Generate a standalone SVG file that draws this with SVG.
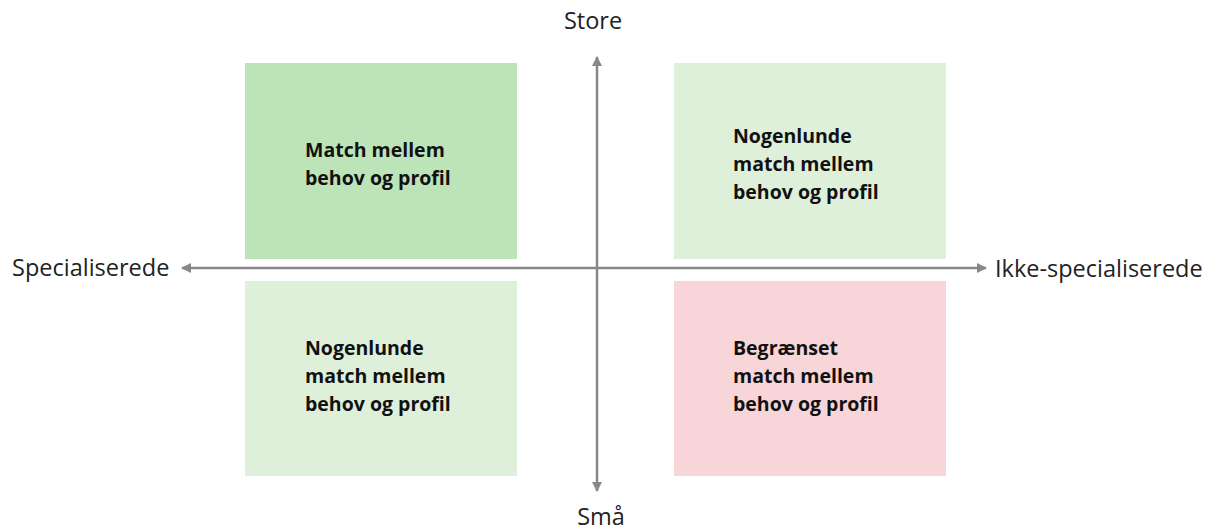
<svg xmlns="http://www.w3.org/2000/svg" width="1206" height="531" viewBox="0 0 1206 531">
<style>
.box-text{font-family:"Open Sans","Noto Sans","DejaVu Sans",sans-serif;font-weight:bold;font-size:19.5px;fill:#111}
.axis-label{font-family:"Open Sans","Noto Sans","DejaVu Sans",sans-serif;font-size:23.5px;fill:#222}
.axis{stroke:#888;stroke-width:2.5;fill:none}
</style>
<defs>
<marker id="arr" viewBox="0 0 10 10" refX="9" refY="5" markerWidth="4" markerHeight="4" orient="auto" markerUnits="strokeWidth">
<path d="M0,0 L10,5 L0,10 z" fill="#888"/>
</marker>
</defs>
<rect width="1206" height="531" fill="#fff"/>
<g id="q-top-left">
<rect x="245" y="63" width="272" height="196" fill="#BDE3B8"/>
<text class="box-text" x="305" y="157">Match mellem</text>
<text class="box-text" x="305" y="185">behov og profil</text>
</g>
<g id="q-top-right">
<rect x="674" y="63" width="272" height="196" fill="#DEF0DA"/>
<text class="box-text" x="733" y="143">Nogenlunde</text>
<text class="box-text" x="733" y="171">match mellem</text>
<text class="box-text" x="733" y="199">behov og profil</text>
</g>
<g id="q-bottom-left">
<rect x="245" y="281" width="272" height="195" fill="#DEF0DA"/>
<text class="box-text" x="305" y="355">Nogenlunde</text>
<text class="box-text" x="305" y="383">match mellem</text>
<text class="box-text" x="305" y="411">behov og profil</text>
</g>
<g id="q-bottom-right">
<rect x="674" y="281" width="272" height="195" fill="#F8D5D8"/>
<text class="box-text" x="733" y="355">Begrænset</text>
<text class="box-text" x="733" y="383">match mellem</text>
<text class="box-text" x="733" y="411">behov og profil</text>
</g>
<g id="connectors">
<line class="axis" x1="597" y1="268" x2="182" y2="268" marker-end="url(#arr)"/>
<line class="axis" x1="597" y1="268" x2="986" y2="268" marker-end="url(#arr)"/>
<line class="axis" x1="597" y1="268" x2="597" y2="57" marker-end="url(#arr)"/>
<line class="axis" x1="597" y1="268" x2="597" y2="491" marker-end="url(#arr)"/>
</g>
<g id="labels">
<text class="axis-label" x="593" y="29" text-anchor="middle">Store</text>
<text class="axis-label" x="601" y="525" text-anchor="middle">Små</text>
<text class="axis-label" x="12" y="276">Specialiserede</text>
<text class="axis-label" x="995" y="277">Ikke-specialiserede</text>
</g>
</svg>
